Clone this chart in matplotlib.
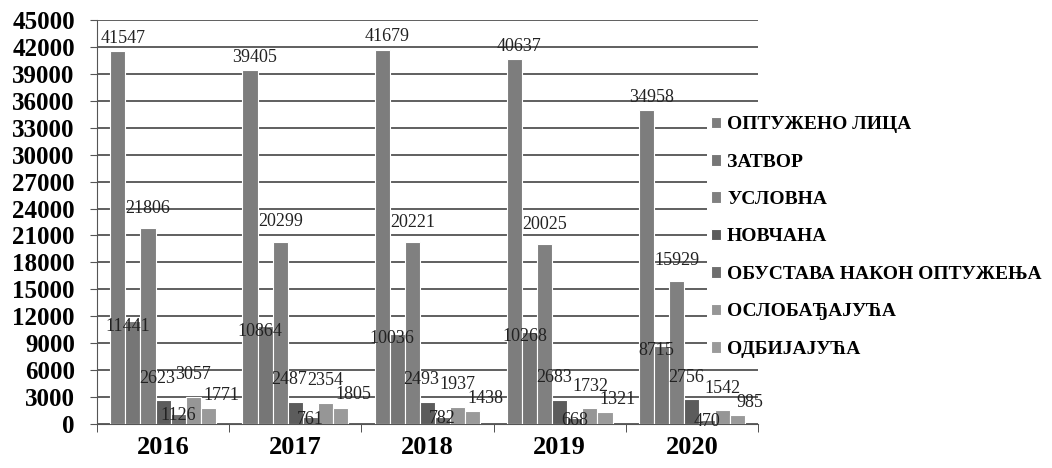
import numpy as np
import matplotlib
matplotlib.use("Agg")
from matplotlib import pyplot as plt

years = ['2016', '2017', '2018', '2019', '2020']
series_names = ['ОПТУЖЕНО ЛИЦА', 'ЗАТВОР', 'УСЛОВНА', 'НОВЧАНА',
                'ОБУСТАВА НАКОН ОПТУЖЕЊА', 'ОСЛОБАЂАЈУЋА', 'ОДБИЈАЈУЋА']

optuzeno = [41547, 39405, 41679, 40637, 34958]
zatvor = [11441, 10864, 10036, 10268, 8715]
uslovna = [21806, 20299, 20221, 20025, 15929]
novcana = [2623, 2487, 2493, 2683, 2756]
obustava = [1126, 761, 782, 668, 470]
oslobadjajuca = [3057, 2354, 1937, 1732, 1542]
odbijajuca = [1771, 1805, 1438, 1321, 985]

values = [optuzeno, zatvor, uslovna, novcana, obustava, oslobadjajuca, odbijajuca]
colors = ['#7d7d7d', '#767676', '#808080', '#5c5c5c', '#6e6e6e', '#969696', '#9a9a9a']
# where each series' value label sits relative to the bar top (pixels)
label_dx = [5, -5, 0, -6, 0, 0, 13]
label_dy = [13, -5, 20, 22, -2, 22, 13]

plt.rcParams['font.family'] = ['Liberation Serif', 'DejaVu Serif']

fig = plt.figure(figsize=(10.52, 4.68), dpi=100)
ax = fig.add_axes([97 / 1052, 1 - 424 / 468, 661 / 1052, 404 / 468])

x = np.arange(len(years))
n = len(values)
w = 0.8 / n
for i, vals in enumerate(values):
    pos = x - 0.4 + w * (i + 0.5)
    bars = ax.bar(pos, vals, w, color=colors[i], edgecolor='white', linewidth=0.8,
                  label=series_names[i], zorder=3)
    for b, v in zip(bars, vals):
        ax.annotate(str(v), (b.get_x() + b.get_width() / 2, v),
                    xytext=(label_dx[i], label_dy[i]), textcoords='offset pixels',
                    ha='center', va='center', fontsize=13, color='#222222', zorder=4)

ax.set_xlim(-0.5, 4.5)
ax.set_ylim(0, 45000)
ax.set_yticks(range(0, 45001, 3000))
ax.set_xticks(x)
ax.set_xticklabels(years)
ax.set_xticks(np.arange(-0.5, 5, 1), minor=True)
ax.tick_params(axis='x', which='major', length=0, labelsize=19, pad=9)
ax.tick_params(axis='x', which='minor', length=6, color='#333333')
ax.tick_params(axis='y', length=5, labelsize=18, color='#555555', pad=11)
for lab in ax.get_xticklabels() + ax.get_yticklabels():
    lab.set_fontweight('bold')

ax.yaxis.grid(True, color='#444444', linewidth=1.2, zorder=0)
ax.spines['top'].set_visible(False)
ax.spines['right'].set_visible(False)
ax.spines['left'].set_color('#555555')
ax.spines['bottom'].set_color('#555555')

fig.legend(loc='center left', bbox_to_anchor=(697 / 1052, 1 - 237 / 468),
           frameon=True, facecolor='white', edgecolor='none', framealpha=1,
           handlelength=0.55, handleheight=0.55, handletextpad=0.3,
           labelspacing=1.05, borderpad=0.2, prop={'weight': 'bold', 'size': 14})

plt.savefig('out.png', dpi=100)
